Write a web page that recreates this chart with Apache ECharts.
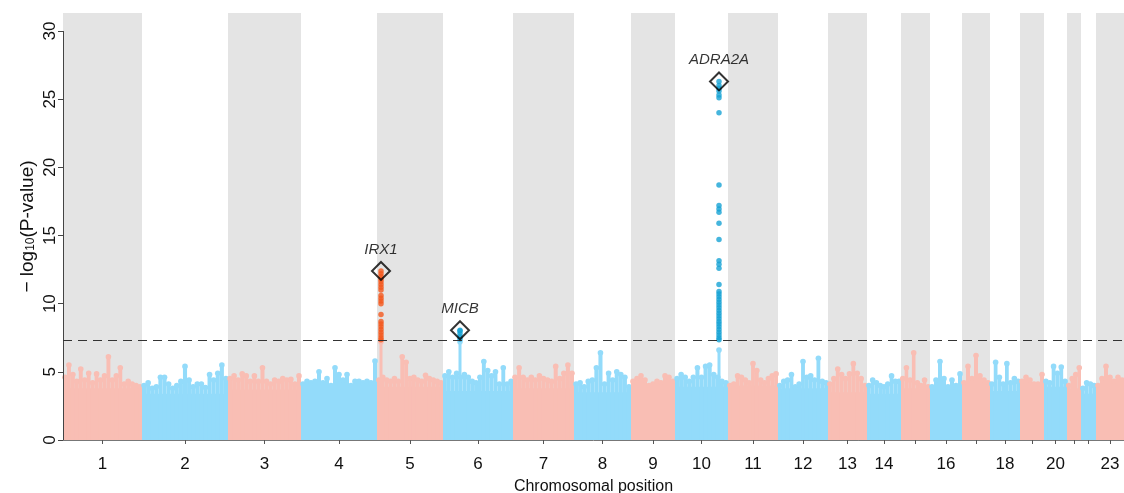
<!DOCTYPE html>
<html>
<head>
<meta charset="utf-8">
<title>Manhattan plot</title>
<script src="https://cdn.jsdelivr.net/npm/echarts@6/dist/echarts.min.js"></script>
<style>
  html, body { margin: 0; padding: 0; background: #fff; }
  #chart { width: 1124px; height: 493px; }
</style>
</head>
<body>
<div id="chart"></div>
<script>
// chromosomes and their width on the x axis (SNP index units)
var chrNames = ['1', '2', '3', '4', '5', '6', '7', '8', '9', '10', '11', '12',
  '13', '14', '15', '16', '17', '18', '19', '20', '21', '22', '23'];
var chrWidths = [79, 86, 73, 76, 66, 70, 61, 57, 44, 53, 50, 50, 39, 34, 29, 32, 28, 30, 24, 23, 14, 15, 28];
// only these get a tick label
var shownLabels = ['1', '2', '3', '4', '5', '6', '7', '8', '9', '10', '11', '12', '13', '14', '16', '18', '20', '23'];
var yTicks = [0, 5, 10, 15, 20, 25, 30];

// -log10(p) level of the dense bulk of SNPs per chromosome
var baseLevel = [3.8, 3.4, 3.7, 3.3, 3.9, 3.6, 3.8, 3.5, 3.6, 3.9, 4.0, 3.8,
  3.5, 3.4, 3.8, 3.7, 3.8, 3.6, 3.8, 3.9, 3.8, 3.4, 3.7];

// tops of the SNP columns, read left to right along each chromosome
var chrTops = [
  [4.6, 5.5, 4.8, 4.3, 5.2, 4.4, 4.9, 4.2, 4.85, 4.4, 4.7, 6.1, 4.4, 4.7, 5.3, 4.1, 4.3, 4.1, 4.0, 3.9],
  [4.0, 4.2, 3.8, 3.9, 4.6, 4.6, 4.1, 3.8, 4.0, 4.3, 5.4, 4.4, 3.9, 4.1, 4.1, 3.85, 4.8, 4.4, 4.9, 5.5, 4.5],
  [4.5, 4.7, 4.4, 4.85, 4.7, 4.3, 4.7, 4.3, 5.3, 4.3, 4.1, 4.4, 4.3, 4.5, 4.4, 4.45, 4.1, 4.7],
  [4.1, 4.3, 4.2, 4.3, 5.0, 4.2, 4.5, 4.0, 5.3, 4.8, 4.4, 4.8, 4.0, 4.3, 4.3, 4.2, 4.3, 4.2, 5.8],
  [4.4, 4.6, 4.4, 4.3, 4.5, 4.3, 6.1, 5.7, 4.5, 4.6, 4.4, 4.3, 4.75, 4.5, 4.4, 4.3, 4.2],
  [4.7, 5.0, 4.6, 4.9, 4.6, 4.8, 4.6, 4.3, 4.2, 4.6, 5.75, 5.1, 4.7, 5.0, 4.1, 5.3, 4.1, 4.3],
  [4.6, 5.3, 4.6, 4.4, 4.6, 4.4, 4.7, 4.5, 4.4, 4.3, 5.4, 4.5, 4.9, 5.5, 4.9],
  [4.1, 4.2, 3.9, 4.3, 4.4, 5.3, 6.4, 4.1, 4.9, 4.4, 5.0, 4.8, 4.6, 3.9],
  [4.3, 4.5, 4.7, 4.4, 4.0, 4.1, 4.3, 4.2, 4.7, 4.6, 4.3],
  [4.5, 4.8, 4.6, 4.3, 4.6, 5.3, 4.6, 5.4, 5.5, 4.8, 4.6, 4.3, 4.2],
  [4.0, 4.1, 4.7, 4.6, 4.4, 4.2, 5.6, 5.1, 4.4, 4.2, 4.5, 4.7, 4.85],
  [4.0, 4.3, 4.4, 4.8, 3.9, 4.1, 5.75, 4.6, 4.7, 4.4, 6.0, 4.3, 4.2],
  [4.1, 4.5, 5.2, 4.8, 4.5, 4.85, 5.6, 4.9, 4.5, 4.0],
  [4.0, 4.4, 4.2, 4.0, 3.9, 4.1, 4.7, 4.3, 4.3],
  [4.5, 5.3, 4.4, 6.4, 4.2, 4.0, 4.4, 3.9],
  [3.9, 4.4, 5.75, 4.5, 3.9, 4.4, 4.0, 4.85],
  [4.2, 5.4, 4.5, 6.2, 4.7, 4.4, 4.2],
  [4.1, 5.7, 4.6, 4.1, 5.6, 4.2, 4.5, 4.3],
  [4.3, 4.6, 4.4, 4.1, 4.1, 4.8],
  [4.3, 4.2, 5.4, 4.9, 5.35, 4.3],
  [4.0, 4.5, 4.8, 5.3],
  [3.8, 4.2, 4.1, 4.0],
  [4.0, 4.5, 5.4, 4.6, 4.3, 4.6, 4.4]
];

// genome-wide significant loci
var hitGenes = ['IRX1', 'MICB', 'ADRA2A'];
var hitChr = [5, 6, 10];
var hitOffset = [4, 17, 44];        // position inside the chromosome
var hitLead = [12.4, 8.05, 26.3];   // lead SNP, drawn as diamond
var hitBelow = [7.2, 7.2, 6.6];     // top of the sub-threshold column under the hit
var hitPoints = [
  [12.2, 12.0, 11.8, 11.6, 11.4, 11.2, 11.0, 10.6, 10.4, 10.2, 10.0, 9.2, 8.7, 8.5, 8.3, 8.1, 7.9, 7.7, 7.5, 7.35],
  [8.0, 7.8, 7.6, 7.4],
  [26.0, 25.8, 25.6, 25.3, 25.1, 24.0, 18.7, 17.2, 16.95, 16.7, 15.9, 14.7, 13.15, 12.9, 12.6, 11.4,
    10.9, 10.7, 10.5, 10.3, 10.1, 9.9, 9.7, 9.5, 9.3, 9.1, 8.9, 8.7, 8.5, 8.3, 8.1, 7.9, 7.7, 7.5, 7.35]
];
var gwThreshold = 7.3; // -log10(5e-8)

var pink = '#f9beb4';
var blue = '#93dbfa';
var hitColor = { pink: '#f4581d', blue: '#17a3d4' };

// cumulative starts
var chrStart = [];
var acc = 0;
chrWidths.forEach(function (w) { chrStart.push(acc); acc += w; });
var xMax = acc;
var chrCenter = chrStart.map(function (s, i) { return s + chrWidths[i] / 2; });
function chrColor(i) { return i % 2 === 0 ? pink : blue; }

// build series data
var bandData = [], baseData = [], columnData = [];
chrNames.forEach(function (name, i) {
  if (i % 2 === 0) bandData.push([chrStart[i], chrStart[i] + chrWidths[i]]);
  baseData.push([chrStart[i], chrStart[i] + chrWidths[i], baseLevel[i], i]);
  var tops = chrTops[i];
  var step = chrWidths[i] / tops.length;
  tops.forEach(function (t, k) {
    columnData.push([chrStart[i] + (k + 0.5) * step, t, i, step]);
  });
});
var hitScatter = [], leadData = [];
hitGenes.forEach(function (g, j) {
  var c = hitChr[j] - 1;
  var x = chrStart[c] + hitOffset[j];
  columnData.push([x, hitBelow[j], c, 2.5]);
  hitPoints[j].forEach(function (v) {
    hitScatter.push({ value: [x, v], itemStyle: { color: c % 2 === 0 ? hitColor.pink : hitColor.blue } });
  });
  hitScatter.push({ value: [x, hitLead[j]], itemStyle: { color: c % 2 === 0 ? hitColor.pink : hitColor.blue } });
  leadData.push({ value: [x, hitLead[j]], name: g });
});

var yMax = 31.32;
var font = "'Liberation Sans', Arial, sans-serif";

var chart = echarts.init(document.getElementById('chart'));
var option = {
  animation: false,
  grid: { left: 63, right: 0, top: 13, bottom: 53, outerBoundsMode: 'none' },
  xAxis: {
    type: 'value',
    min: 0,
    max: xMax,
    name: 'Chromosomal position',
    nameLocation: 'middle',
    nameGap: 39,
    nameTextStyle: { fontFamily: font, fontSize: 16, color: '#111' },
    splitLine: { show: false },
    axisLine: { show: true, lineStyle: { color: '#777', width: 1 } },
    axisTick: {
      show: true, length: 4, lineStyle: { color: '#555' },
      customValues: chrCenter
    },
    axisLabel: {
      fontFamily: font, fontSize: 17, color: '#111', margin: 16,
      customValues: chrCenter.filter(function (c, i) { return shownLabels.indexOf(chrNames[i]) >= 0; }),
      formatter: function (v) {
        for (var i = 0; i < chrCenter.length; i++) {
          if (Math.abs(chrCenter[i] - v) < 0.01) return chrNames[i];
        }
        return '';
      }
    }
  },
  yAxis: {
    type: 'value',
    min: 0,
    max: yMax,
    name: '− log{sub|10}(P-value)',
    nameLocation: 'middle',
    nameRotate: 90,
    nameGap: 26,
    nameMoveOverlap: false,
    nameTextStyle: {
      fontFamily: font, fontSize: 19, color: '#111',
      rich: { sub: { fontFamily: font, fontSize: 12, color: '#111', verticalAlign: 'bottom', padding: [7, 0, 0, 0] } }
    },
    splitLine: { show: false },
    axisLine: { show: false },
    axisTick: { show: true, length: 5, lineStyle: { color: '#444' }, customValues: yTicks },
    axisLabel: {
      fontFamily: font, fontSize: 17, color: '#111', rotate: 90, margin: 4,
      customValues: yTicks
    }
  },
  series: [
    {
      // grey bands behind odd chromosomes, plus the y axis line (0..30)
      type: 'custom',
      z: 1,
      silent: true,
      data: bandData,
      renderItem: function (params, api) {
        var p0 = api.coord([api.value(0), 0]);
        var p1 = api.coord([api.value(1), yMax]);
        return {
          type: 'rect',
          shape: { x: p0[0], y: p1[1], width: p1[0] - p0[0], height: p0[1] - p1[1] },
          style: { fill: '#e4e4e4' }
        };
      },
      markLine: {
        silent: true,
        symbol: 'none',
        label: { show: false },
        lineStyle: { color: '#444', width: 1, type: 'solid' },
        data: [[{ coord: [0, 0] }, { coord: [0, 30] }]]
      }
    },
    {
      // dense bulk of SNPs per chromosome
      type: 'custom',
      z: 2,
      silent: true,
      data: baseData,
      renderItem: function (params, api) {
        var p0 = api.coord([api.value(0), 0]);
        var p1 = api.coord([api.value(1), api.value(2)]);
        return {
          type: 'rect',
          shape: { x: p0[0], y: p1[1], width: p1[0] - p0[0], height: p0[1] - p1[1] },
          style: { fill: chrColor(api.value(3)) }
        };
      }
    },
    {
      // columns of SNPs above the bulk
      type: 'custom',
      z: 3,
      silent: true,
      data: columnData,
      renderItem: function (params, api) {
        var p0 = api.coord([api.value(0), 0]);
        var p1 = api.coord([api.value(0), api.value(1)]);
        var col = chrColor(api.value(2));
        var full = api.size([api.value(3), 0])[0];
        var w = api.value(3) < 3 ? 3 : full;
        return {
          type: 'group',
          children: [
            { type: 'rect', shape: { x: p0[0] - w / 2, y: p1[1], width: w, height: p0[1] - p1[1] }, style: { fill: col } },
            { type: 'circle', shape: { cx: p1[0], cy: p1[1], r: 2.8 }, style: { fill: col } }
          ]
        };
      }
    },
    {
      type: 'scatter',
      z: 4,
      symbolSize: 5.5,
      data: hitScatter,
      markLine: {
        silent: true,
        symbol: 'none',
        label: { show: false },
        lineStyle: { color: '#333', width: 1.1, type: [9, 6] },
        data: [{ yAxis: gwThreshold }]
      }
    },
    {
      type: 'scatter',
      z: 5,
      symbol: 'diamond',
      symbolSize: 18,
      itemStyle: { color: 'rgba(0,0,0,0)', borderColor: '#000', borderWidth: 2 },
      label: {
        show: true,
        position: 'top',
        distance: 4,
        formatter: '{b}',
        fontFamily: font,
        fontStyle: 'italic',
        fontSize: 15,
        color: '#000'
      },
      data: leadData
    }
  ]
};
chart.setOption(option);
</script>
</body>
</html>
